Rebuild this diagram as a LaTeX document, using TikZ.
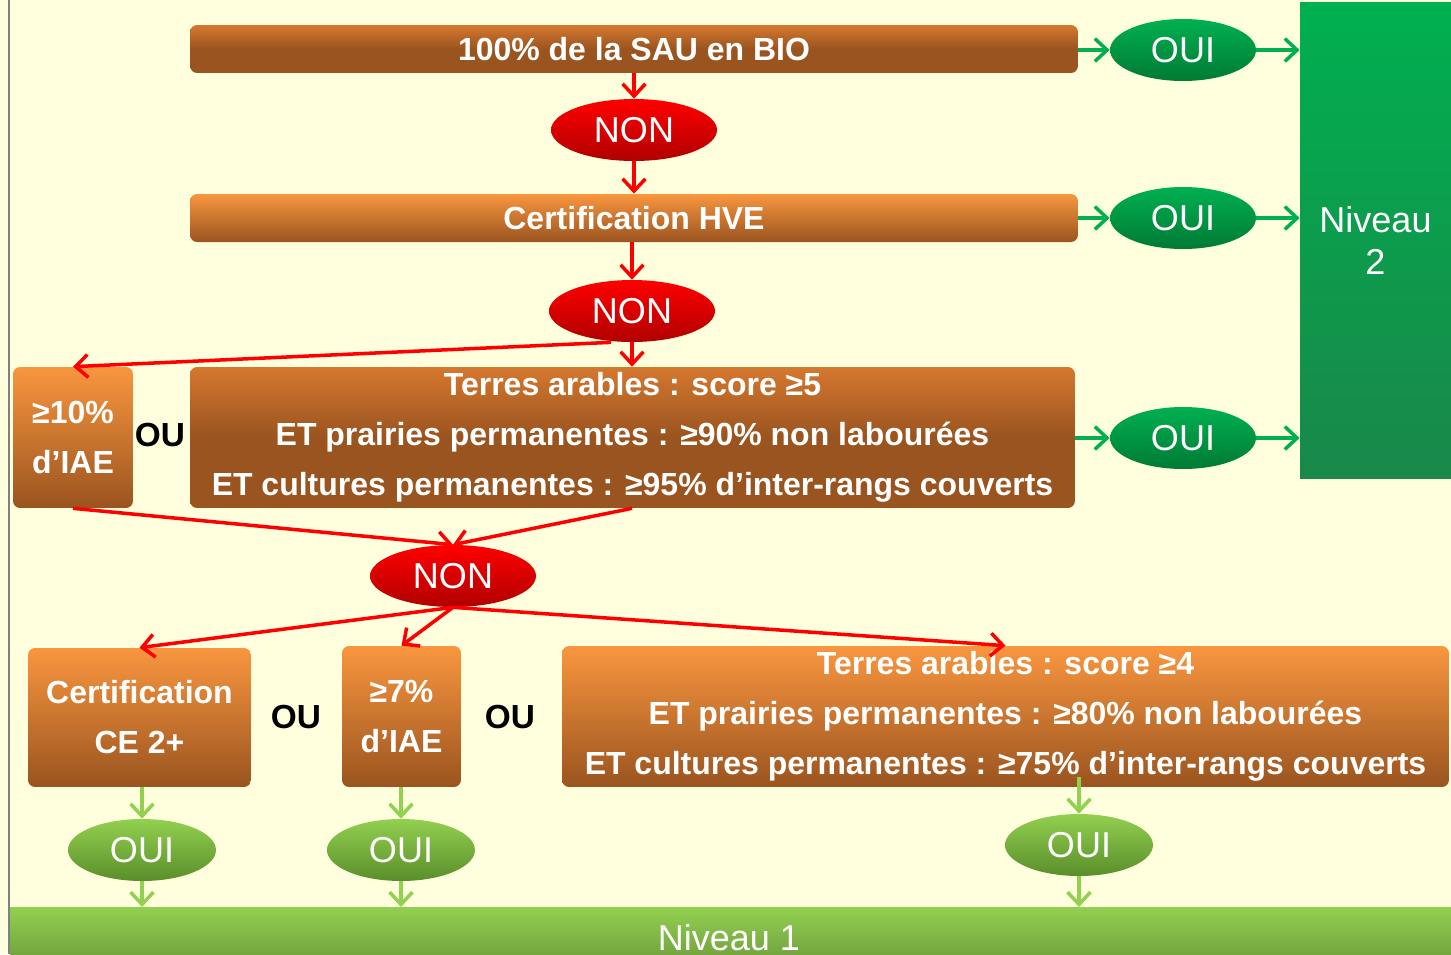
\documentclass[tikz,border=0pt]{standalone}
\usepackage{fontspec}
\setmainfont{Liberation Sans}
\usetikzlibrary{shapes.geometric,arrows.meta}
\definecolor{fond}{HTML}{FFFFDE}
\definecolor{orclair}{HTML}{F9963F}
\definecolor{ormoyen}{HTML}{D5782F}
\definecolor{brun}{HTML}{9A541F}
\definecolor{rouge}{HTML}{FF0000}
\definecolor{rougefonce}{HTML}{B00000}
\definecolor{vert}{HTML}{00B050}
\definecolor{vertfonce}{HTML}{007A35}
\definecolor{vertclair}{HTML}{92D050}
\definecolor{vertolive}{HTML}{5A8E2A}
\begin{document}
\begin{tikzpicture}[x=0.02cm,y=-0.02cm,
    boite/.style={rounded corners=4pt,inner sep=0pt,text=white,align=center,
        font=\bfseries\fontsize{18.2}{28.5}\selectfont},
    boitesombre/.style={boite,top color=ormoyen,bottom color=brun,middle color=brun},
    boiteclaire/.style={boite,top color=orclair,bottom color=brun},
    bulle/.style={ellipse,inner sep=0pt,minimum height=1.24cm,text=white,
        font=\fontsize{20.5}{24}\selectfont},
    non/.style={bulle,minimum width=3.32cm,top color=rouge,bottom color=rougefonce},
    oui/.style={bulle,minimum width=2.92cm,top color=vert,bottom color=vertfonce},
    ouiclair/.style={bulle,minimum width=2.96cm,top color=vertclair,bottom color=vertolive},
    ou/.style={font=\bfseries\fontsize{19}{20}\selectfont},
    fleche/.style={line width=2pt,-{Straight Barb[length=7pt,width=13pt,line width=2pt]}},
    flrouge/.style={fleche,draw=rouge},
    flvert/.style={fleche,draw=vert},
    flclair/.style={fleche,draw=vertclair}]
    \useasboundingbox (0,0) rectangle (1451,954);
    \fill[fond] (0,0) rectangle (1451,954);
    \draw[gray,line width=1.2pt] (9,0) -- (9,954);
    %% niveaux
    \node[rectangle,inner sep=0pt,minimum width=3.02cm,minimum height=9.54cm,
        top color=vert,bottom color=vertfonce!90,text=white,align=center,
        font=\fontsize{20.5}{24}\selectfont] (N2) at (1375.5,240.5) {Niveau\\2};
    \shade[top color=vertclair,bottom color=vertclair!80!black] (10,907) rectangle (1451,954);
    \node[anchor=base,inner sep=0pt,text=white,font=\fontsize{20.5}{24}\selectfont] (N1) at (729,950) {Niveau 1};
    \coordinate (N1top) at (729,907);
    %% premier niveau de questions
    \node[boitesombre,minimum width=17.76cm,minimum height=0.96cm] (A) at (634,49) {100\% de la SAU en BIO};
    \node[non] (NA) at (634,130) {NON};
    \node[boiteclaire,minimum width=17.76cm,minimum height=0.96cm] (B) at (634,218) {Certification HVE};
    \node[non] (NB) at (632,311) {NON};
    \node[boitesombre,minimum width=17.7cm,minimum height=2.82cm] (C) at (632.5,437.5)
        {Terres arables : score ≥5\\ET prairies permanentes : ≥90\% non labourées\\ET cultures permanentes : ≥95\% d’inter-rangs couverts};
    \node[boiteclaire,minimum width=2.4cm,minimum height=2.82cm] (D) at (73,437.5) {≥10\%\\d’IAE};
    \node[ou] (ouA) at (160,435) {OU};
    \node[oui] (OA) at (1183,50) {OUI};
    \node[oui] (OB) at (1183,218) {OUI};
    \node[oui] (OC) at (1183,438) {OUI};
    \node[non] (NC) at (453,576) {NON};
    %% second niveau de questions
    \node[boiteclaire,minimum width=4.46cm,minimum height=2.78cm] (E) at (139.5,717.5) {Certification\\CE 2+};
    \node[ou] (ouB) at (296,717) {OU};
    \node[boiteclaire,minimum width=2.38cm,minimum height=2.82cm] (F) at (401.5,716.5) {≥7\%\\d’IAE};
    \node[ou] (ouC) at (510,717) {OU};
    \node[boiteclaire,minimum width=17.74cm,minimum height=2.82cm] (G) at (1005.5,716.5)
        {Terres arables : score ≥4\\ET prairies permanentes : ≥80\% non labourées\\ET cultures permanentes : ≥75\% d’inter-rangs couverts};
    \node[ouiclair] (OE) at (142,850) {OUI};
    \node[ouiclair] (OF) at (401,850) {OUI};
    \node[ouiclair] (OG) at (1079,845) {OUI};
    %% fleches rouges
    \draw[flrouge] (A.south) -- (NA.north);
    \draw[flrouge] (NA.south) -- (B.north);
    \draw[flrouge] (B.south -| NB.north) -- (NB.north);
    \draw[flrouge] (NB.south) -- (C.north -| NB.south);
    \draw[flrouge] ([xshift=-12pt]NB.south) -- (D.north);
    \draw[flrouge] (D.south) -- (NC.north);
    \draw[flrouge] (C.south -| NB.south) -- (NC.north);
    \draw[flrouge] (NC.south) -- (E.north);
    \draw[flrouge] (NC.south) -- (F.north);
    \draw[flrouge] (NC.south) -- (G.north);
    %% fleches vertes
    \draw[flvert] (A.east |- OA.west) -- (OA.west);
    \draw[flvert] (OA.east) -- (OA.east -| N2.west);
    \draw[flvert] (B.east) -- (OB.west);
    \draw[flvert] (OB.east) -- (OB.east -| N2.west);
    \draw[flvert] (C.east |- OC.west) -- (OC.west);
    \draw[flvert] (OC.east) -- (OC.east -| N2.west);
    \draw[flclair] (E.south -| OE.north) -- (OE.north);
    \draw[flclair] (OE.south) -- (OE.south |- N1top);
    \draw[flclair] (F.south -| OF.north) -- (OF.north);
    \draw[flclair] (OF.south) -- (OF.south |- N1top);
    \draw[flclair] ([yshift=6pt]G.south -| OG.north) -- (OG.north);
    \draw[flclair] (OG.south) -- (OG.south |- N1top);
\end{tikzpicture}
\end{document}
